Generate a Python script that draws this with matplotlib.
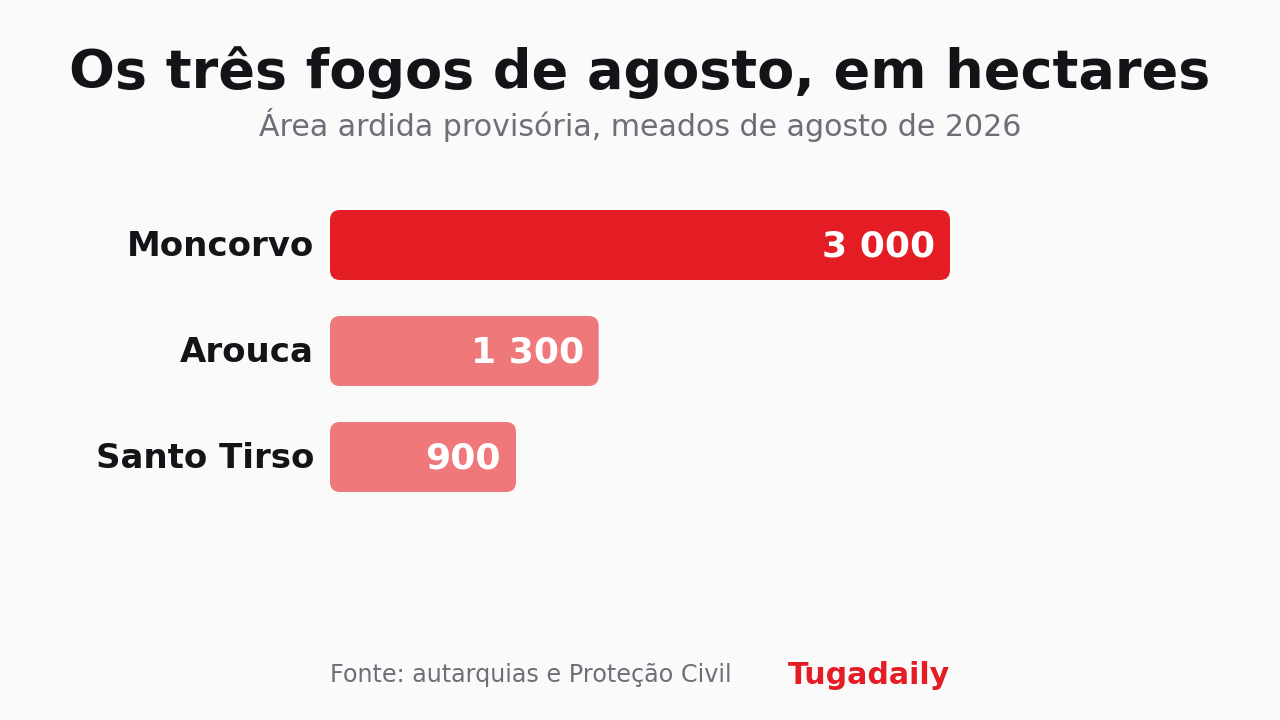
import matplotlib.pyplot as plt
from matplotlib.patches import FancyBboxPatch

# data
places = ["Moncorvo", "Arouca", "Santo Tirso"]
hectares = [3000, 1300, 900]
value_labels = ["3 000", "1 300", "900"]

RED = "#E41C23"
LIGHT = "#EF787B"
BG = "#FAFAFA"
DARK = "#141418"
GRAY = "#6E6E78"

W, H = 1280, 720
fig = plt.figure(figsize=(W / 100, H / 100), dpi=100, facecolor=BG)

# axes placed in pixel space: x 330..950, y 210..492 (from top)
x0, x1 = 330, 950
ytop, ybot = 210, 492
ax = fig.add_axes([x0 / W, 1 - ybot / H, (x1 - x0) / W, (ybot - ytop) / H])
ax.set_facecolor(BG)
ax.axis("off")

bar_h = 70 / 106
ax.set_xlim(0, 3000)
ax.set_ylim(len(places) - 1 + bar_h / 2, -bar_h / 2)

bars = ax.barh(range(len(places)), hectares, height=bar_h)

# swap the plain rectangles for rounded ones (radius ~10 px)
px_per_x = (x1 - x0) / 3000
px_per_y = (ybot - ytop) / (len(places) - 1 + bar_h)
radius_px = 10
for i, rect in enumerate(bars):
    rect.set_visible(False)
    col = RED if i == 0 else LIGHT
    patch = FancyBboxPatch(
        (rect.get_x(), rect.get_y()), rect.get_width(), rect.get_height(),
        boxstyle=f"round,pad=0,rounding_size={radius_px / px_per_x}",
        mutation_aspect=px_per_x / px_per_y,
        facecolor=col, edgecolor="none",
    )
    ax.add_patch(patch)
    ax.text(rect.get_width() - 15 / px_per_x, i + 0.01, value_labels[i],
            ha="right", va="center", color="white",
            fontsize=26, fontweight="bold")
    ax.text(-16 / px_per_x, i + 0.01, places[i], ha="right", va="center",
            color=DARK, fontsize=24.5, fontweight="bold", clip_on=False)

fig.text(0.5, 1 - 73 / H, "Os três fogos de agosto, em hectares",
         ha="center", va="center", fontsize=38.9, fontweight="bold", color=DARK)
fig.text(0.5, 1 - 125 / H, "Área ardida provisória, meados de agosto de 2026",
         ha="center", va="center", fontsize=21.6, color=GRAY)

fig.text(x0 / W, 1 - 675 / H, "Fonte: autarquias e Proteção Civil",
         ha="left", va="center", fontsize=17.2, color=GRAY)
fig.text(x1 / W, 1 - 675 / H, "Tugadaily",
         ha="right", va="center", fontsize=21.7, fontweight="bold", color=RED)

fig.savefig("out.png", dpi=100, facecolor=BG)
